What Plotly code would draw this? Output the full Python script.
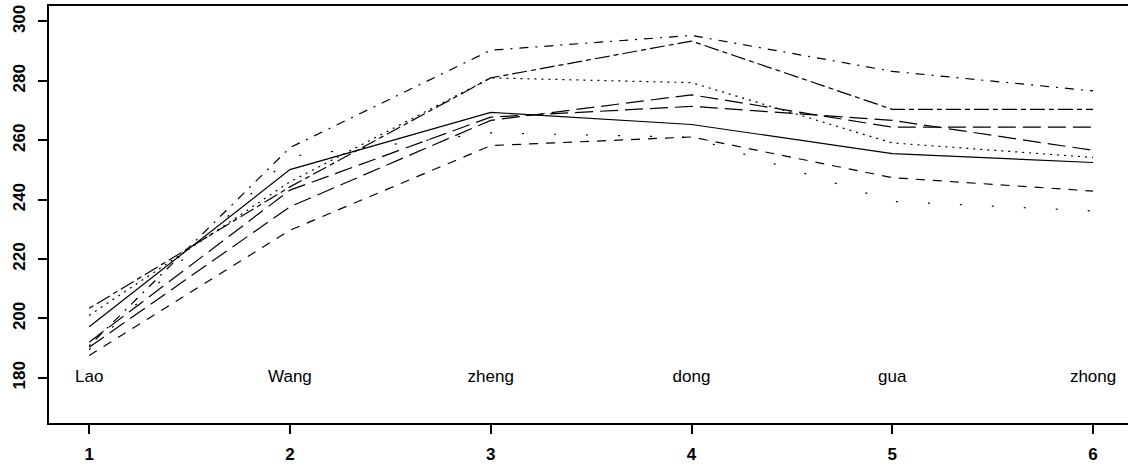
import plotly.graph_objects as go

# ---- data ----
categories = ["Lao", "Wang", "zheng", "dong", "gua", "zhong"]
x_pos = [1, 2, 3, 4, 5, 6]
label_y = [180, 180, 180, 180, 180, 180]

s_dotdash = [190.8, 257.5, 290.3, 295.3, 283.2, 276.6]
s_twodash = [203.4, 244.3, 281.0, 293.4, 270.4, 270.4]
s_dotted = [201.0, 246.0, 281.0, 279.4, 259.1, 254.2]
s_longdash_a = [190.3, 237.6, 266.7, 275.3, 264.4, 264.4]
s_longdash_b = [192.0, 243.2, 267.8, 271.4, 266.7, 256.6]
s_solid = [197.2, 250.1, 269.4, 265.3, 255.5, 252.5]
s_dashed = [187.5, 229.7, 258.2, 261.1, 247.4, 242.9]
s_sparse = [189.5, 254.5, 262.5, 261.0, 239.4, 236.2]

y_ticks = [180, 200, 220, 240, 260, 280, 300]

series = [
    ("solid", s_solid, "solid"),
    ("dashed", s_dashed, "9px,8px"),
    ("dotted", s_dotted, "2px,5px"),
    ("dotdash", s_dotdash, "2px,7px,9px,7px"),
    ("longdash_a", s_longdash_a, "18px,7px"),
    ("twodash", s_twodash, "5px,4px,15px,4px"),
    ("longdash_b", s_longdash_b, "18px,7px"),
    ("sparse", s_sparse, "2px,30px"),
]

fig = go.Figure()
for name, vals, dash in series:
    fig.add_trace(go.Scatter(
        x=x_pos, y=vals, mode="lines", name=name,
        line=dict(color="black", width=1.2, dash=dash),
        showlegend=False, hoverinfo="skip",
    ))

fig.add_trace(go.Scatter(
    x=x_pos, y=label_y, mode="text", text=categories,
    textposition="middle center",
    textfont=dict(family="Liberation Sans, Arial", size=17, color="black"),
    showlegend=False, hoverinfo="skip",
))

fig.update_layout(
    width=1128, height=468,
    margin=dict(l=49, r=0, t=6, b=45),
    paper_bgcolor="white", plot_bgcolor="white",
    font=dict(family="Liberation Sans, Arial", color="black"),
)
fig.update_xaxes(
    range=[0.8, 6.174], tickvals=x_pos, ticktext=[str(v) for v in x_pos],
    showgrid=False, zeroline=False,
    showline=True, mirror=True, linecolor="black", linewidth=1.5,
    ticks="outside", ticklen=9, tickwidth=1.5, tickcolor="black",
    tickfont=dict(family="Liberation Sans, Arial", size=17, color="black", weight="bold"),
    ticklabelstandoff=6,
)
fig.update_yaxes(
    range=[164.8, 305.2], tickvals=y_ticks,
    showgrid=False, zeroline=False,
    showline=True, mirror=False, linecolor="black", linewidth=1.5,
    ticks="outside", ticklen=9, tickwidth=1.5, tickcolor="black",
    tickangle=-90,
    tickfont=dict(family="Liberation Sans, Arial", size=17, color="black", weight="bold"),
    ticklabelstandoff=6,
)

fig.write_html(
    "out.html",
    config={"displayModeBar": False},
    post_script="document.body.style.margin='0px';document.body.style.overflow='hidden';",
)
